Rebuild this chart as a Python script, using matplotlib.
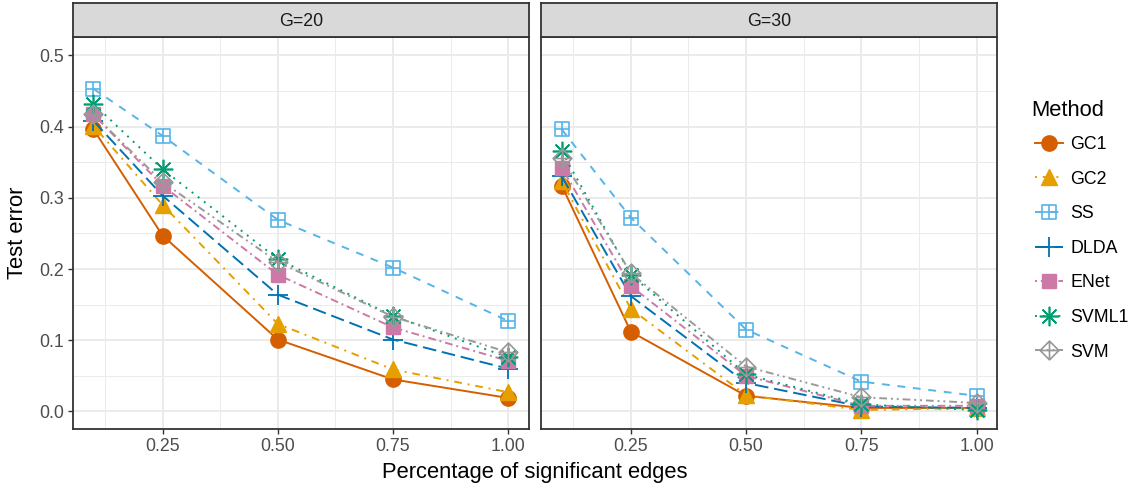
import matplotlib
matplotlib.use("Agg")
import matplotlib.pyplot as plt
from matplotlib.path import Path
from matplotlib.ticker import FixedLocator

plt.rcParams['font.family'] = ['Liberation Sans', 'DejaVu Sans']

# data
pct = [0.1, 0.25, 0.5, 0.75, 1.0]
panels = ['G=20', 'G=30']
methods = ['GC1', 'GC2', 'SS', 'DLDA', 'ENet', 'SVML1', 'SVM']

err_g20 = {
    'GC1':   [0.396, 0.247, 0.101, 0.045, 0.019],
    'GC2':   [0.401, 0.290, 0.123, 0.059, 0.027],
    'SS':    [0.453, 0.387, 0.269, 0.202, 0.127],
    'DLDA':  [0.408, 0.303, 0.164, 0.101, 0.060],
    'ENet':  [0.417, 0.317, 0.192, 0.118, 0.071],
    'SVML1': [0.432, 0.340, 0.214, 0.134, 0.076],
    'SVM':   [0.417, 0.322, 0.210, 0.133, 0.083],
}
err_g30 = {
    'GC1':   [0.317, 0.112, 0.022, 0.005, 0.005],
    'GC2':   [0.323, 0.144, 0.023, 0.002, 0.005],
    'SS':    [0.396, 0.272, 0.115, 0.042, 0.022],
    'DLDA':  [0.330, 0.162, 0.040, 0.007, 0.005],
    'ENet':  [0.342, 0.176, 0.050, 0.008, 0.008],
    'SVML1': [0.365, 0.192, 0.052, 0.010, 0.002],
    'SVM':   [0.356, 0.194, 0.063, 0.020, 0.012],
}
yticks = [0.0, 0.1, 0.2, 0.3, 0.4, 0.5]
xticks = [0.25, 0.5, 0.75, 1.0]

colors = {'GC1': '#D55E00', 'GC2': '#E69F00', 'SS': '#56B4E9', 'DLDA': '#0072B2',
          'ENet': '#CC79A7', 'SVML1': '#009E73', 'SVM': '#999999'}
dashes = {'GC1': None, 'GC2': (1, 3, 4, 3), 'SS': (4, 4), 'DLDA': (7, 3),
          'ENet': (1, 2, 4, 2), 'SVML1': (1, 3), 'SVM': (4, 2, 1, 2, 1, 2)}

# composite markers (square+plus, diamond+plus)
sq_plus = Path([(-1, -1), (1, -1), (1, 1), (-1, 1), (-1, -1), (0, -1), (0, 1), (-1, 0), (1, 0)],
               [Path.MOVETO, Path.LINETO, Path.LINETO, Path.LINETO, Path.CLOSEPOLY,
                Path.MOVETO, Path.LINETO, Path.MOVETO, Path.LINETO])
dia_plus = Path([(0, -1), (1, 0), (0, 1), (-1, 0), (0, -1), (0, -1), (0, 1), (-1, 0), (1, 0)],
                [Path.MOVETO, Path.LINETO, Path.LINETO, Path.LINETO, Path.CLOSEPOLY,
                 Path.MOVETO, Path.LINETO, Path.MOVETO, Path.LINETO])

mstyle = {
    'GC1':   dict(marker='o', ms=11),
    'GC2':   dict(marker='^', ms=12),
    'SS':    dict(marker=sq_plus, ms=10.5, mfc='none', mew=1.2),
    'DLDA':  dict(marker='+', ms=15, mew=1.3),
    'ENet':  dict(marker='s', ms=10.5),
    'SVML1': dict(marker=(8, 2, 0), ms=14, mew=1.2),
    'SVM':   dict(marker=dia_plus, ms=13.5, mfc='none', mew=1.2),
}

W, H = 1135, 486
fig = plt.figure(figsize=(W / 100, H / 100), dpi=100)

top, bot = 37.5, 429.3
lefts = [72.7, 541.0]
width = 456.3
handles = []
for k, (name, data) in enumerate(zip(panels, [err_g20, err_g30])):
    x0 = lefts[k]
    ax = fig.add_axes([x0 / W, 1 - bot / H, width / W, (bot - top) / H])
    sax = fig.add_axes([x0 / W, 1 - top / H, width / W, (top - 2.7) / H])
    sax.set_facecolor('#D9D9D9')
    sax.set_xticks([])
    sax.set_yticks([])
    for s in sax.spines.values():
        s.set_color('#333333')
        s.set_linewidth(1.3)
    sax.text(0.5, 0.47, name, ha='center', va='center', fontsize=12.8, color='#1A1A1A',
             transform=sax.transAxes)

    for m in methods:
        kw = dict(mstyle[m])
        kw.setdefault('mfc', colors[m])
        ln, = ax.plot(pct, data[m], color=colors[m], lw=1.4, mec=colors[m], label=m, **kw)
        if dashes[m] is not None:
            ln.set_dashes(dashes[m])
        if k == 0:
            handles.append(ln)

    ax.set_xlim(0.055, 1.045)
    ax.set_ylim(-0.025, 0.525)
    ax.xaxis.set_major_locator(FixedLocator(xticks))
    ax.xaxis.set_minor_locator(FixedLocator([0.125, 0.375, 0.625, 0.875]))
    ax.yaxis.set_major_locator(FixedLocator(yticks))
    ax.yaxis.set_minor_locator(FixedLocator([0.05, 0.15, 0.25, 0.35, 0.45]))
    ax.set_xticklabels([f'{v:.2f}' for v in xticks])
    if k == 0:
        ax.set_yticklabels([f'{v:.1f}' for v in yticks])
    else:
        ax.tick_params(axis='y', labelleft=False, left=False)
    ax.grid(which='major', color='#EBEBEB', lw=1.4)
    ax.grid(which='minor', color='#EBEBEB', lw=0.7)
    ax.set_axisbelow(True)
    ax.tick_params(which='major', length=3.5, width=1.0, color='#333333',
                   labelsize=12.8, labelcolor='#4D4D4D', pad=3)
    ax.tick_params(which='minor', length=0)
    for s in ax.spines.values():
        s.set_color('#333333')
        s.set_linewidth(1.3)

fig.text(535 / W, 1 - 472 / H, 'Percentage of significant edges', ha='center', va='center',
         fontsize=15.8)
fig.text(18 / W, 1 - 233 / H, 'Test error', ha='center', va='center', rotation=90,
         fontsize=15.8)

# legend: title drawn separately to match ggplot's spacing
fig.text(1031 / W, 1 - 110 / H, 'Method', ha='left', va='center', fontsize=15.8)
leg = fig.legend(handles, methods, loc='upper left',
                 bbox_to_anchor=(1035 / W, 1 - 136 / H), frameon=False, fontsize=12.8,
                 handlelength=1.6, handletextpad=0.4,
                 labelspacing=0.99, borderpad=0, borderaxespad=0)

fig.savefig('out.png', dpi=100)
